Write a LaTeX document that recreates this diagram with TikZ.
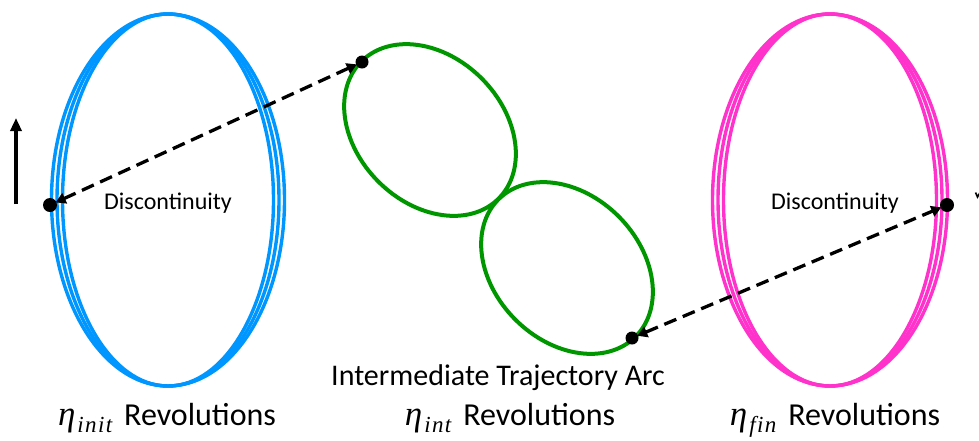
\documentclass[tikz,border=0pt]{standalone}
\usepackage{fontspec}
\setmainfont{Carlito}
\newfontfamily\serifit{Liberation Serif}[LetterSpace=6]
\usetikzlibrary{arrows.meta}
\definecolor{orbblue}{RGB}{0,150,255}
\definecolor{orbpink}{RGB}{255,51,204}
\definecolor{orbgreen}{RGB}{0,150,0}
\newcommand{\etasub}[1]{{\serifit\itshape{\fontsize{35}{38}\selectfont η}\kern2pt\raisebox{-7pt}{\fontsize{23}{25}\selectfont #1}}\hspace{12pt}}
\tikzset{
  blueorb/.style={draw=orbblue, line width=3.4pt},
  pinkorb/.style={draw=orbpink, line width=3.4pt},
  greenorb/.style={draw=orbgreen, line width=4pt},
  dotnode/.style={circle, fill=black, inner sep=0pt, minimum size=14pt},
  dasharrow/.style={line width=3.3pt, dash pattern=on 13pt off 7pt,
     {Triangle[length=10pt,width=11pt]}-{Triangle[length=10pt,width=11pt]}, shorten <=-1pt, shorten >=-1pt},
  smalltext/.style={font=\fontsize{24}{28}\selectfont, inner sep=0pt, anchor=base},
  bigtext/.style={font=\fontsize{30}{34}\selectfont, inner sep=0pt, anchor=base},
  revtext/.style={font=\fontsize{32}{36}\selectfont, inner sep=0pt, anchor=base},
}
\begin{document}
\begin{tikzpicture}[x=1pt, y=-1pt]
\useasboundingbox (0,0) rectangle (979,440);
% blue initial orbit
\coordinate (bc) at (168,200);
\draw[blueorb] (bc) ellipse [x radius=116.5, y radius=186];
\draw[blueorb] (bc) ellipse [x radius=111, y radius=186];
\draw[blueorb] (bc) ellipse [x radius=105.5, y radius=186];
% pink final orbit
\coordinate (pc) at (830,200);
\draw[pinkorb] (pc) ellipse [x radius=117.5, y radius=186];
\draw[pinkorb] (pc) ellipse [x radius=112, y radius=186];
\draw[pinkorb] (pc) ellipse [x radius=106.5, y radius=186];
% green intermediate arc
\coordinate (gc1) at (430,130);
\coordinate (gc2) at (567,268);
\draw[greenorb, rotate around={-45:(gc1)}] (gc1) ellipse [x radius=97, y radius=73];
\draw[greenorb, rotate around={-45:(gc2)}] (gc2) ellipse [x radius=97, y radius=73];
% dots
\node[dotnode] (b1) at (50,205) {};
\node[dotnode] (p1) at (947,205) {};
\node[dotnode, minimum size=13pt] (g1) at (362,62) {};
\node[dotnode, minimum size=13pt] (g2) at (632,338) {};
% connectors
\draw[dasharrow] (g1) -- (b1);
\draw[dasharrow] (g2) -- (p1);
% vertical arrow at the left
\coordinate (va) at (16,204);
\coordinate (vb) at (16,118);
\draw[line width=3.2pt, -{Triangle[length=13pt,width=11pt]}] (va) -- (vb);
% clipped mark at the right edge
\coordinate (m1) at (975.5,192.5);
\coordinate (m2) at (977.5,197);
\coordinate (m3) at (980,192.5);
\draw[line width=1.6pt] (m1) -- (m2) -- (m3);
% labels
\node[smalltext] (d1) at (168,209) {Discontinuity};
\node[smalltext] (d2) at (835,209) {Discontinuity};
\node[revtext] (l1) at (167,425) {\etasub{init}Revolutions};
\node[bigtext] (l2) at (498,385) {Intermediate Trajectory Arc};
\node[revtext] (l3) at (510,425) {\etasub{int}Revolutions};
\node[revtext] (l4) at (835,425) {\etasub{fin}Revolutions};
\end{tikzpicture}
\end{document}
